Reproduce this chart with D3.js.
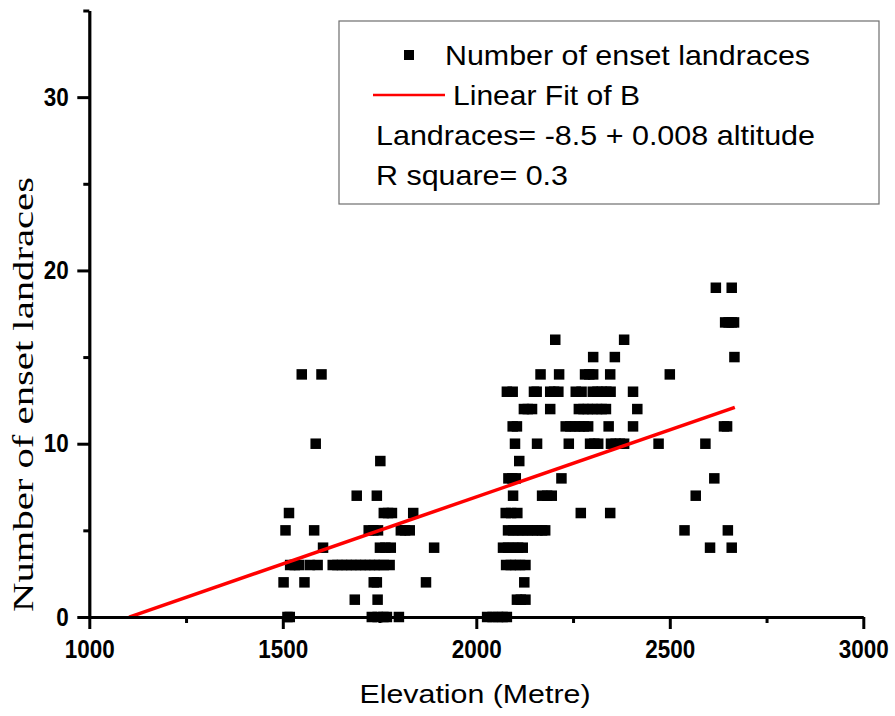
<!DOCTYPE html>
<html>
<head>
<meta charset="utf-8">
<script src="https://cdn.jsdelivr.net/npm/d3@7"></script>
<style>
  html, body { margin: 0; padding: 0; background: #fff; }
  svg { display: block; }
</style>
</head>
<body>
<div id="chart"></div>
<script>
// ---- data ----
const xTicks = [1000, 1500, 2000, 2500, 3000];
const xMinorTicks = [1250, 1750, 2250, 2750];
const yTicks = [0, 10, 20, 30];
const yMinorTicks = [5, 15, 25, 35];

const elevation = [
  // 0
  1512, 1518, 1730, 1745, 1760, 1769, 1800, 2028, 2042, 2056, 2068, 2079,
  // 1
  1686, 1745, 2105, 2115, 2127,
  // 2
  1502, 1556, 1735, 1743, 1870, 2124,
  // 3
  1519, 1531, 1542, 1570, 1590, 1629, 1641, 1653, 1665, 1677, 1689, 1701, 1713, 1725, 1737, 1749, 1761, 1776,
  2077, 2089, 2101, 2113, 2127,
  // 4
  1604, 1751, 1765, 1779, 1891, 2069, 2082, 2095, 2108, 2120, 2604, 2660,
  // 5
  1507, 1581, 1722, 1734, 1746, 1805, 1816, 1828, 2082, 2095, 2108, 2120, 2133, 2146, 2158, 2170, 2178, 2538, 2650,
  // 6
  1516, 1761, 1772, 1782, 1837, 2076, 2090, 2106, 2270, 2346,
  // 7
  1691, 1743, 2095, 2170, 2183, 2195, 2567,
  // 8
  2083, 2093, 2102, 2220, 2615,
  // 9
  1752, 2111,
  // 10
  1585, 2100, 2157, 2239, 2294, 2305, 2315, 2348, 2360, 2371, 2382, 2471, 2592,
  // 11
  2094, 2105, 2231, 2243, 2255, 2267, 2278, 2289, 2342, 2405, 2640, 2648,
  // 12
  2123, 2133, 2144, 2191, 2265, 2277, 2288, 2300, 2312, 2324, 2335, 2416,
  // 13
  2079, 2094, 2149, 2156, 2191, 2201, 2212, 2257, 2272, 2301, 2313, 2324, 2336, 2347, 2405,
  // 14
  1549, 1600, 2166, 2214, 2281, 2292, 2302, 2346, 2500,
  // 15
  2302, 2358, 2667,
  // 16
  2204, 2382,
  // 17
  2643, 2652, 2660, 2666,
  // 19
  2619, 2660
];
const landraces = [
  0,0,0,0,0,0,0,0,0,0,0,0,
  1,1,1,1,1,
  2,2,2,2,2,2,
  3,3,3,3,3,3,3,3,3,3,3,3,3,3,3,3,3,3,
  3,3,3,3,3,
  4,4,4,4,4,4,4,4,4,4,4,4,
  5,5,5,5,5,5,5,5,5,5,5,5,5,5,5,5,5,5,5,
  6,6,6,6,6,6,6,6,6,6,
  7,7,7,7,7,7,7,
  8,8,8,8,8,
  9,9,
  10,10,10,10,10,10,10,10,10,10,10,10,10,
  11,11,11,11,11,11,11,11,11,11,11,11,
  12,12,12,12,12,12,12,12,12,12,12,12,
  13,13,13,13,13,13,13,13,13,13,13,13,13,13,13,
  14,14,14,14,14,14,14,14,14,
  15,15,15,
  16,16,
  17,17,17,17,
  19,19
];

// linear fit as drawn: Landraces = intercept + slope * elevation
const fitRange = [1103, 2668];
const fitIntercept = -8.53;
const fitSlope = 0.00773;

const legendTexts = ["Number of enset landraces", "Linear Fit of B",
  "Landraces= -8.5 + 0.008 altitude", "R square= 0.3"];
const xTitle = "Elevation (Metre)";
const yTitle = "Number of enset landraces";

// ---- drawing ----
const W = 895, H = 716;
const svg = d3.select("#chart").append("svg").attr("width", W).attr("height", H);

const x = d3.scaleLinear().domain([1000, 3000]).range([89.3, 863.3]);
const y = d3.scaleLinear().domain([0, 35]).range([617, 10.5]);

const sans = "'Liberation Sans', Arial, Helvetica, sans-serif";
const serif = "'Liberation Serif', 'Times New Roman', serif";

// points
const pts = elevation.map((e, i) => ({e, v: landraces[i]}));
const ms = 10.5;
svg.append("g").selectAll("rect").data(pts).join("rect")
  .attr("x", d => x(d.e) - ms / 2)
  .attr("y", d => y(d.v) - ms / 2)
  .attr("width", ms).attr("height", ms)
  .attr("fill", "#000");

// fit line
const fitData = fitRange.map(e => ({e, v: fitIntercept + fitSlope * e}));
svg.append("path")
  .datum(fitData)
  .attr("d", d3.line().x(d => x(d.e)).y(d => y(d.v)))
  .attr("fill", "none").attr("stroke", "#ff0000").attr("stroke-width", 3.5);

// axes
const gx = svg.append("g").attr("transform", `translate(0,${y(0)})`);
gx.call(d3.axisBottom(x).tickValues(xTicks).tickSize(12).tickSizeOuter(0).tickFormat(d3.format("d")));
const gxm = svg.append("g").attr("transform", `translate(0,${y(0)})`);
gxm.call(d3.axisBottom(x).tickValues(xMinorTicks).tickSize(6).tickSizeOuter(0).tickFormat(""));
gxm.select(".domain").remove();

const gy = svg.append("g").attr("transform", `translate(${x(1000)},0)`);
gy.call(d3.axisLeft(y).tickValues(yTicks).tickSize(12).tickSizeOuter(0));
const gym = svg.append("g").attr("transform", `translate(${x(1000)},0)`);
gym.call(d3.axisLeft(y).tickValues(yMinorTicks).tickSize(6).tickSizeOuter(0).tickFormat(""));
gym.select(".domain").remove();

svg.selectAll(".domain").attr("stroke", "#000").attr("stroke-width", 3.2);
svg.selectAll(".tick line").attr("stroke", "#000").attr("stroke-width", 3);

gx.selectAll(".tick text")
  .attr("y", 41).attr("dy", 0)
  .attr("font-family", sans).attr("font-size", 25).attr("font-weight", "bold")
  .attr("fill", "#000")
  .attr("textLength", function() { return 12.5 * this.textContent.length; })
  .attr("lengthAdjust", "spacingAndGlyphs");
gy.selectAll(".tick text")
  .attr("x", -20.5).attr("dy", "0.33em")
  .attr("font-family", sans).attr("font-size", 25).attr("font-weight", "bold")
  .attr("fill", "#000")
  .attr("textLength", function() { return 12.5 * this.textContent.length; })
  .attr("lengthAdjust", "spacingAndGlyphs");

// axis titles
svg.append("text")
  .attr("x", 475).attr("y", 703)
  .attr("text-anchor", "middle")
  .attr("font-family", sans).attr("font-size", 25)
  .attr("textLength", 231).attr("lengthAdjust", "spacingAndGlyphs")
  .text(xTitle);

svg.append("text")
  .attr("transform", "translate(33,394.5) rotate(-90)")
  .attr("text-anchor", "middle")
  .attr("font-family", serif).attr("font-size", 29)
  .attr("textLength", 435).attr("lengthAdjust", "spacingAndGlyphs")
  .text(yTitle);

// legend
const lg = svg.append("g");
lg.append("rect")
  .attr("x", 339).attr("y", 21).attr("width", 540).attr("height", 183)
  .attr("fill", "#fff").attr("stroke", "#6e6e6e").attr("stroke-width", 1.2);
lg.append("rect")
  .attr("x", 409 - 5).attr("y", 55 - 5).attr("width", 10).attr("height", 10)
  .attr("fill", "#000");
lg.append("line")
  .attr("x1", 373).attr("x2", 445).attr("y1", 95).attr("y2", 95)
  .attr("stroke", "#ff0000").attr("stroke-width", 2.5);
const legendPos = [[445, 65, 365], [453, 105, 187], [376, 145, 439], [376, 185, 192]];
lg.selectAll("text.leg").data(legendTexts).join("text")
  .attr("class", "leg")
  .attr("x", (d, i) => legendPos[i][0])
  .attr("y", (d, i) => legendPos[i][1])
  .attr("textLength", (d, i) => legendPos[i][2])
  .attr("lengthAdjust", "spacingAndGlyphs")
  .attr("font-family", sans).attr("font-size", 28)
  .attr("fill", "#000")
  .text(d => d);
</script>
</body>
</html>
